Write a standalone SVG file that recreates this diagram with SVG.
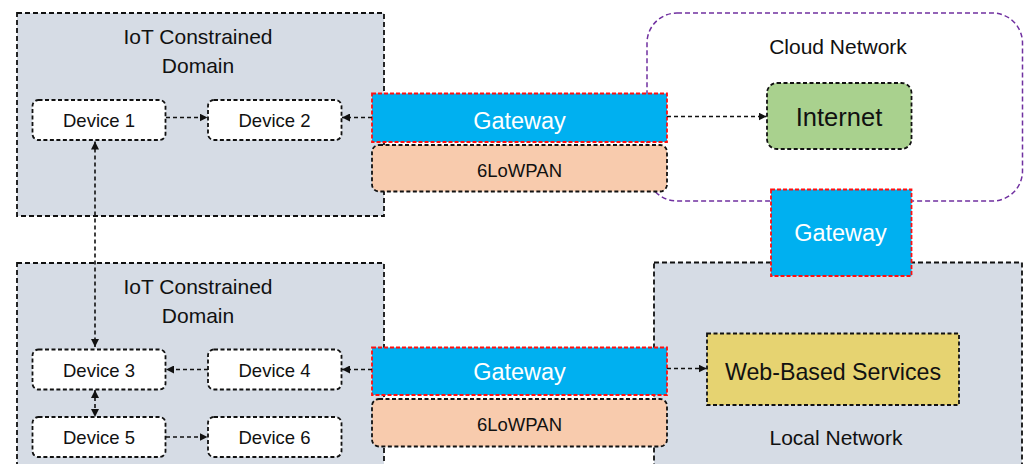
<svg xmlns="http://www.w3.org/2000/svg" width="1025" height="464" viewBox="0 0 1025 464">
<style>
text{font-family:"Liberation Sans",Arial,sans-serif;fill:#111;text-anchor:middle}
.dom{fill:#D6DCE5;stroke:#111;stroke-width:1.8;stroke-dasharray:5 3}
.dev{fill:#fff;stroke:#111;stroke-width:1.8;stroke-dasharray:4 2.5}
.gw{fill:#00B0F0;stroke:#FF1010;stroke-width:1.8;stroke-dasharray:4 2}
.lo{fill:#F8CBAD;stroke:#111;stroke-width:1.8;stroke-dasharray:4 2.5}
.cloud{fill:#fff;stroke:#7030A0;stroke-width:1.5;stroke-dasharray:5 3}
.c{fill:none;stroke:#111;stroke-width:1.6;stroke-dasharray:4 3}
.t19{font-size:18.5px}
.t21{font-size:21px}
.gwt{font-size:23.5px;fill:#fff}
</style>
<defs>
<marker id="ah" viewBox="0 0 10 10" refX="10" refY="5" markerWidth="8" markerHeight="8" markerUnits="userSpaceOnUse" orient="auto-start-reverse">
<path d="M0,0 L10,5 L0,10 z" fill="#111"/>
</marker>
</defs>
<g id="domain-top">
<rect class="dom" x="17" y="13" width="367" height="203"/>
<text class="t21" x="198" y="44">IoT Constrained</text>
<text class="t21" x="198" y="72.5">Domain</text>
</g>
<g id="domain-bottom">
<rect class="dom" x="17" y="263" width="367" height="215"/>
<text class="t21" x="198" y="294">IoT Constrained</text>
<text class="t21" x="198" y="322.5">Domain</text>
</g>
<g id="cloud-network">
<rect class="cloud" x="647" y="13" width="375.5" height="188" rx="30"/>
<text class="t21" x="838" y="54">Cloud Network</text>
</g>
<g id="local-network">
<rect class="dom" x="654" y="262.5" width="368" height="215"/>
<text class="t21" x="836" y="445">Local Network</text>
</g>
<g id="device1"><rect class="dev" x="32.5" y="100" width="133" height="40" rx="6"/><text class="t19" x="99" y="126.8">Device 1</text></g>
<g id="device2"><rect class="dev" x="208" y="100" width="133.5" height="40" rx="6"/><text class="t19" x="274.5" y="126.8">Device 2</text></g>
<g id="device3"><rect class="dev" x="32.5" y="349.5" width="133" height="40" rx="6"/><text class="t19" x="99" y="376.5">Device 3</text></g>
<g id="device4"><rect class="dev" x="208" y="349.5" width="133.5" height="40" rx="6"/><text class="t19" x="274.5" y="376.5">Device 4</text></g>
<g id="device5"><rect class="dev" x="32.5" y="417" width="133" height="40" rx="6"/><text class="t19" x="99" y="444">Device 5</text></g>
<g id="device6"><rect class="dev" x="208" y="417" width="133.5" height="40" rx="6"/><text class="t19" x="274.5" y="444">Device 6</text></g>
<g id="gateway-top"><rect class="gw" x="372" y="93.5" width="295" height="48.5"/><text class="gwt" x="519.5" y="129">Gateway</text></g>
<g id="lowpan-top"><rect class="lo" x="372" y="145" width="295" height="46.5" rx="7"/><text class="t19" x="519.5" y="176.5">6LoWPAN</text></g>
<g id="gateway-bottom"><rect class="gw" x="372" y="347.5" width="295" height="47.5"/><text class="gwt" x="519.5" y="380">Gateway</text></g>
<g id="lowpan-bottom"><rect class="lo" x="372" y="399" width="295" height="47.5" rx="7"/><text class="t19" x="519.5" y="430.5">6LoWPAN</text></g>
<g id="internet"><rect x="767" y="83" width="144.5" height="66" rx="10" fill="#A9D18E" stroke="#111" stroke-width="1.8" stroke-dasharray="4 2.5"/><text x="839" y="125.5" style="font-size:25.5px">Internet</text></g>
<g id="gateway-cloud"><rect class="gw" x="771" y="189.5" width="140.5" height="86.5"/><text class="gwt" x="840.5" y="241">Gateway</text></g>
<g id="web-services"><rect x="707" y="333.5" width="252" height="71.5" fill="#E6D371" stroke="#111" stroke-width="1.8" stroke-dasharray="4 2.5"/><text x="833" y="379.5" style="font-size:23.2px">Web-Based Services</text></g>
<g id="connectors">
<line class="c" x1="166" y1="117.5" x2="207.5" y2="117.5" marker-end="url(#ah)"/>
<line class="c" x1="372" y1="117.5" x2="342" y2="117.5" marker-end="url(#ah)"/>
<line class="c" x1="667" y1="116.5" x2="766.5" y2="116.5" marker-end="url(#ah)"/>
<line class="c" x1="95" y1="141.5" x2="95" y2="347" marker-start="url(#ah)" marker-end="url(#ah)"/>
<line class="c" x1="208" y1="369.5" x2="166" y2="369.5" marker-end="url(#ah)"/>
<line class="c" x1="372" y1="369.5" x2="342" y2="369.5" marker-end="url(#ah)"/>
<line class="c" x1="667" y1="368.5" x2="706.5" y2="368.5" marker-end="url(#ah)"/>
<line class="c" x1="95" y1="390" x2="95" y2="417" marker-start="url(#ah)" marker-end="url(#ah)"/>
<line class="c" x1="166" y1="437" x2="207.5" y2="437" marker-end="url(#ah)"/>
</g>
</svg>
